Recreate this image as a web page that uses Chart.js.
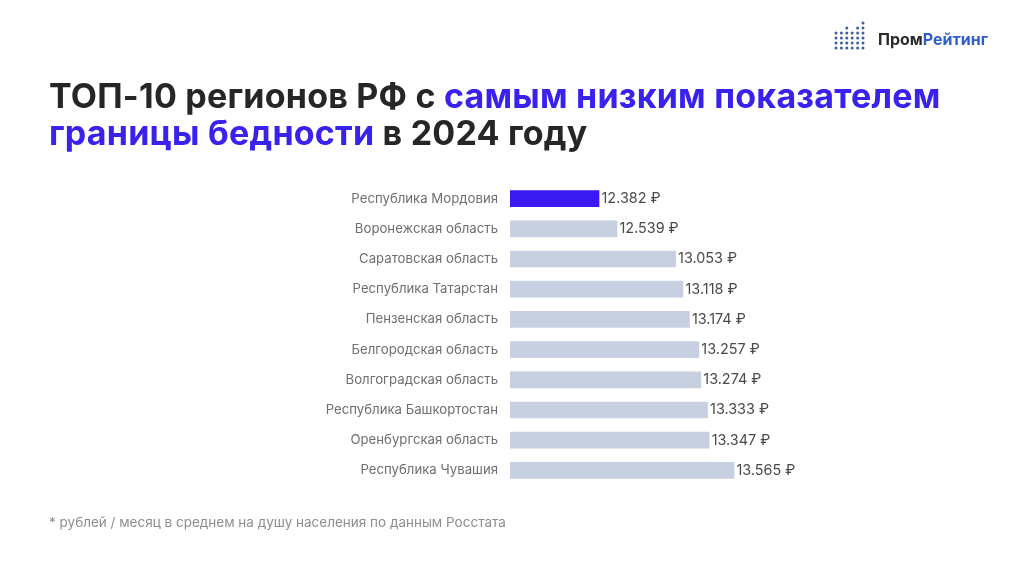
<!DOCTYPE html>
<html lang="ru"><head><meta charset="utf-8">
<style>
html,body{margin:0;padding:0;background:#fff;width:1030px;height:579px;overflow:hidden}
#wrap{position:relative;width:1030px;height:579px;font-family:Inter,"Noto Sans",sans-serif}
canvas#c{position:absolute;left:0;top:0}
.t{position:absolute;white-space:nowrap}
#l1,#l2{left:49px;font-size:34px;font-weight:700;color:#262626;line-height:38px;letter-spacing:.22px}
#l1{top:77px}#l2{top:114px}
b{font-weight:700;color:#3a22ee}
#foot{left:49px;top:514px;font-size:13.5px;color:#8e8e8e;line-height:16px}
#brand{left:878px;top:30px;font-size:16px;font-weight:700;color:#2b2b2b;line-height:19px}
#brand span{color:#2f5fc4}
#logo{position:absolute;left:834px;top:20px}
</style></head><body><div id="wrap">
<canvas id="c" width="1030" height="579"></canvas>
<div class="t" id="l1">ТОП-10 регионов РФ с <b>самым низким показателем</b></div>
<div class="t" id="l2"><b>границы бедности</b> в 2024 году</div>
<div class="t" id="foot">* рублей / месяц в среднем на душу населения по данным Росстата</div>
<svg id="logo" width="34" height="32"></svg>
<div class="t" id="brand">Пром<span>Рейтинг</span></div>
</div>
<script src="https://cdn.jsdelivr.net/npm/chart.js@4/dist/chart.umd.min.js"></script>
<script>
const categories=["Республика Мордовия","Воронежская область","Саратовская область","Республика Татарстан","Пензенская область","Белгородская область","Волгоградская область","Республика Башкортостан","Оренбургская область","Республика Чувашия"];
const values=[12382,12539,13053,13118,13174,13257,13274,13333,13347,13565];
const unit="₽";
const highlight="#3a1af0", base="#c6d0e0";
const fmt=v=>String(v).replace(/\B(?=(\d{3})+$)/g,".")+" "+unit;

const labelPlugin={id:"valueLabels",afterDatasetsDraw(ch){
  const g=ch.ctx,m=ch.getDatasetMeta(0);
  g.save();g.font='14.4px Inter, "Noto Sans", sans-serif';g.fillStyle="#4a4a4a";g.textAlign="left";g.textBaseline="middle";
  m.data.forEach((b,i)=>g.fillText(fmt(values[i]),b.x+2.5,b.y));
  g.restore();
}};
new Chart(document.getElementById("c"),{
  type:"bar",
  data:{labels:categories,datasets:[{data:values,backgroundColor:values.map((v,i)=>i===0?highlight:base),barThickness:16,borderWidth:0}]},
  options:{indexAxis:"y",responsive:false,animation:false,
    layout:{padding:{top:183.5,bottom:93.5,left:0,right:30}},
    plugins:{legend:{display:false},tooltip:{enabled:false}},
    scales:{
      x:{display:false,min:11602,max:15896},
      y:{grid:{display:false,drawTicks:false},border:{display:false},
        afterFit(s){s.width=510},
        ticks:{color:"#6f6f6f",padding:12,autoSkip:false,font:{family:'Inter, "Noto Sans", sans-serif',size:13.2}}}
    }},
  plugins:[labelPlugin]
});
// decorative logo dots
const svg=document.getElementById("logo");
let s="";
const ys=[[13,18,23,28],[13,18,23,28],[8,13,18,23,28],[13,18,23,28],[8,13,18,23,28],[3,8,13,18,23,28]];
ys.forEach((c,i)=>c.forEach(y=>s+=`<circle cx="${2+i*5.4}" cy="${y}" r="1.5" fill="#3d5fa8"/>`));
svg.innerHTML=s;
</script></body></html>
